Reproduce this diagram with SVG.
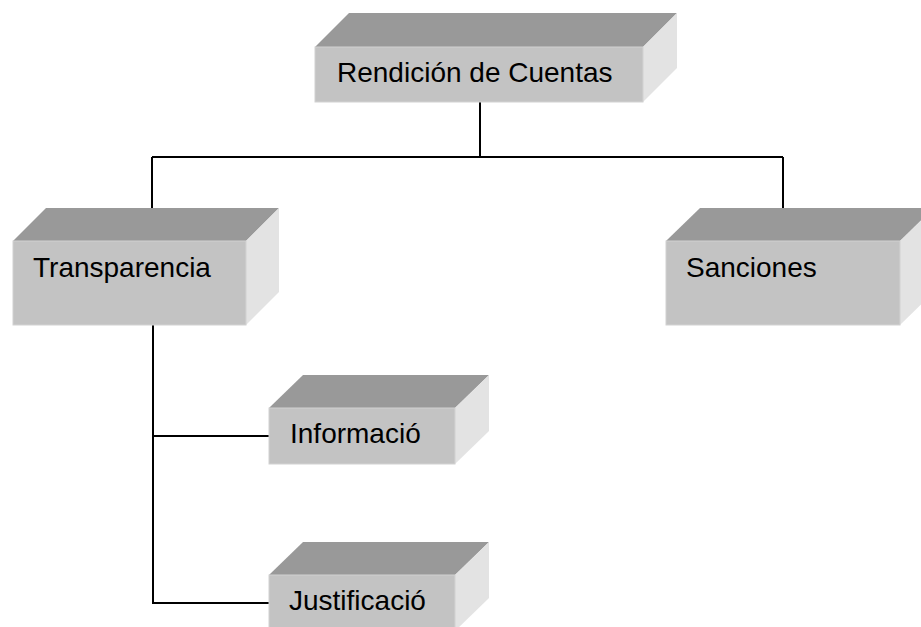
<svg xmlns="http://www.w3.org/2000/svg" width="921" height="627" viewBox="0 0 921 627">
<style>
.top{fill:#999999}
.front{fill:#c3c3c3;stroke:#d2d2d2;stroke-width:1}
.side{fill:#e3e3e3}
.lbl{font-family:"Liberation Sans",Arial,sans-serif;font-size:28px;fill:#000}
.conn{stroke:#000;stroke-width:2;fill:none}
</style>
<rect width="921" height="627" fill="#fff"/>
<g id="connectors">
<path class="conn" d="M480 102 V157 M152 157 H783 M152 157 V208 M783 157 V208"/>
<path class="conn" d="M153 325 V603 H270 M153 436 H270"/>
</g>
<g id="rendicion">
<polygon class="top" points="315,47 349,13 677,13 643,47"/>
<polygon class="side" points="643,47 677,13 677,68 643,102"/>
<rect class="front" x="315" y="47" width="328" height="55"/>
<text class="lbl" x="337" y="82">Rendición de Cuentas</text>
</g>
<g id="transparencia">
<polygon class="top" points="13,241 46,208 279,208 246,241"/>
<polygon class="side" points="246,241 279,208 279,292 246,325"/>
<rect class="front" x="13" y="241" width="233" height="84"/>
<text class="lbl" x="33" y="277">Transparencia</text>
</g>
<g id="sanciones">
<polygon class="top" points="666,241 700,208 934,208 900,241"/>
<polygon class="side" points="900,241 934,208 934,292 900,325"/>
<rect class="front" x="666" y="241" width="234" height="84"/>
<text class="lbl" x="686" y="277">Sanciones</text>
</g>
<g id="informacio">
<polygon class="top" points="269,408 303,375 489,375 455,408"/>
<polygon class="side" points="455,408 489,375 489,431 455,464"/>
<rect class="front" x="269" y="408" width="186" height="56"/>
<text class="lbl" x="290" y="443">Informació</text>
</g>
<g id="justificacio">
<polygon class="top" points="269,575 303,542 489,542 455,575"/>
<polygon class="side" points="455,575 489,542 489,598 455,631"/>
<rect class="front" x="269" y="575" width="186" height="56"/>
<text class="lbl" x="289" y="610">Justificació</text>
</g>
</svg>
